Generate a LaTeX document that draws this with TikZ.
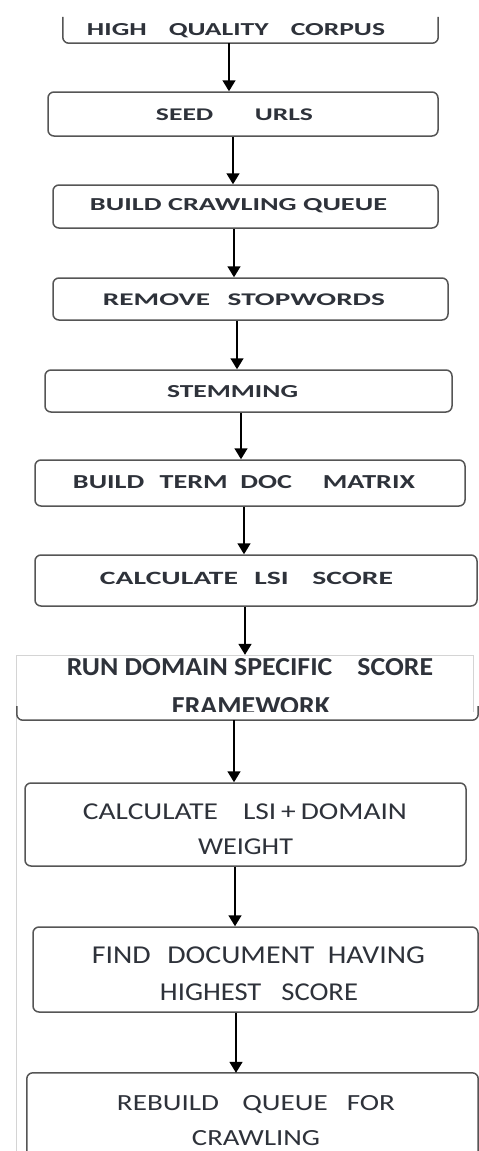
\documentclass[tikz,border=0pt]{standalone}
\usepackage{fontspec}
\setmainfont{Carlito}
\usepackage{graphicx}
\usetikzlibrary{arrows.meta,fit}

\definecolor{ink}{HTML}{2E323A}
\definecolor{edge}{HTML}{555555}
\definecolor{frameline}{HTML}{D4D4D4}

% text squeezed or stretched to a given width and cap height
\newcommand{\fitlabel}[3]{\resizebox{#1}{#2}{#3}}
\newcommand{\wgap}[1]{\hspace{#1em}}

\begin{document}
\begin{tikzpicture}[x=1pt,y=-1pt,
  stepbox/.style={draw=edge, line width=1.5pt, rounded corners=6pt, inner sep=0pt},
  openbox/.style={inner sep=0pt},
  boxline/.style={draw=edge, line width=1.5pt, rounded corners=6pt},
  lbl/.style={inner sep=0pt, outer sep=0pt, text=ink, anchor=base},
  flow/.style={draw=black, line width=1.6pt, -{Triangle[width=13pt,length=11pt]}}]

\useasboundingbox[fill=white] (0,0) rectangle (479,1151);

% ---- boxes ----
\node[openbox, fit={(63,17) (438,43)}] (b1) {};
\draw[boxline] (b1.north west) -- (b1.south west) -- (b1.south east) -- (b1.north east);

\node[stepbox, fit={(48,92) (438,136)}] (b2) {};
\node[stepbox, fit={(53,185) (438,228)}] (b3) {};
\node[stepbox, fit={(53,278) (448,320)}] (b4) {};
\node[stepbox, fit={(45,370) (452,412)}] (b5) {};
\node[stepbox, fit={(35,460) (465,506)}] (b6) {};
\node[stepbox, fit={(35,555) (477,606)}] (b7) {};

% framework box: faint outer frame with a dark rounded lower edge
\node[openbox, fit={(17,655) (478,720)}] (b8) {};
\draw[frameline, line width=1pt] (16,1151) -- (16,655) -- (473,655) -- (473,712);
\draw[boxline] ([yshift=14pt]b8.south west) -- (b8.south west) -- (b8.south east) -- ([yshift=14pt]b8.south east);

\node[stepbox, fit={(25,783) (466,866)}] (b9) {};
\node[stepbox, fit={(33,927) (478,1012)}] (b10) {};

\node[openbox, fit={(27,1073) (478,1170)}] (b11) {};
\draw[boxline] (b11.south west) -- (b11.north west) -- (b11.north east) -- (b11.south east);

% ---- labels ----
\node[lbl] (t1) at (236,35) {\fitlabel{298pt}{12pt}{\bfseries HIGH\wgap{0.8}QUALITY\wgap{0.8}CORPUS}};
\node[lbl] (t2) at (234.5,120) {\fitlabel{157pt}{11.7pt}{\bfseries SEED\wgap{1.5}URLS}};
\node[lbl] (t3) at (238.5,210) {\fitlabel{297pt}{12pt}{\bfseries BUILD CRAWLING QUEUE}};
\node[lbl] (t4) at (244,305) {\fitlabel{282pt}{11.7pt}{\bfseries REMOVE\wgap{0.6}STOPWORDS}};
\node[lbl] (t5) at (232.5,397) {\fitlabel{131pt}{12pt}{\bfseries STEMMING}};
\node[lbl] (t6) at (244,488.5) {\fitlabel{342pt}{13pt}{\bfseries BUILD\wgap{0.55}TERM\wgap{0.45}DOC\wgap{1.1}MATRIX}};
\node[lbl] (t7) at (246.5,584) {\fitlabel{293pt}{12.3pt}{\bfseries CALCULATE\wgap{0.55}LSI\wgap{0.8}SCORE}};
\node[lbl] (t8a) at (250,675) {\fitlabel{366pt}{17pt}{\bfseries RUN DOMAIN SPECIFIC\wgap{0.9}SCORE}};
\begin{scope}
  \clip (0,690) rectangle (479,711);
  \node[lbl] (t8b) at (251,714) {\fitlabel{158pt}{17pt}{\bfseries FRAMEWORK}};
\end{scope}
\node[lbl] (t9a) at (245,819) {\fitlabel{324pt}{15.7pt}{CALCULATE\wgap{0.85}LSI\,+\,DOMAIN}};
\node[lbl] (t9b) at (245.5,854) {\fitlabel{95pt}{15.7pt}{WEIGHT}};
\node[lbl] (t10a) at (258.5,963.3) {\fitlabel{333pt}{16.7pt}{FIND\wgap{0.55}DOCUMENT\wgap{0.45}HAVING}};
\node[lbl] (t10b) at (259,1000) {\fitlabel{198pt}{16.7pt}{HIGHEST\wgap{0.7}SCORE}};
\node[lbl] (t11a) at (256,1110) {\fitlabel{278pt}{15pt}{REBUILD\wgap{0.8}QUEUE\wgap{0.65}FOR}};
\node[lbl] (t11b) at (256,1145) {\fitlabel{128pt}{15pt}{CRAWLING}};

% ---- connectors ----
\coordinate (c1) at (229,0);
\coordinate (c2) at (233,0);
\coordinate (c3) at (234,0);
\coordinate (c4) at (237,0);
\coordinate (c5) at (241,0);
\coordinate (c6) at (244,0);
\coordinate (c7) at (245,0);
\coordinate (c8) at (234,0);
\coordinate (c9) at (235,0);
\coordinate (c10) at (236,0);

\draw[flow] (b1.south -| c1) -- (b2.north -| c1);
\draw[flow] (b2.south -| c2) -- (b3.north -| c2);
\draw[flow] (b3.south -| c3) -- (b4.north -| c3);
\draw[flow] (b4.south -| c4) -- (b5.north -| c4);
\draw[flow] (b5.south -| c5) -- (b6.north -| c5);
\draw[flow] (b6.south -| c6) -- (b7.north -| c6);
\draw[flow] (b7.south -| c7) -- (b8.north -| c7);
\draw[flow] (b8.south -| c8) -- (b9.north -| c8);
\draw[flow] (b9.south -| c9) -- (b10.north -| c9);
\draw[flow] (b10.south -| c10) -- (b11.north -| c10);

\end{tikzpicture}
\end{document}
